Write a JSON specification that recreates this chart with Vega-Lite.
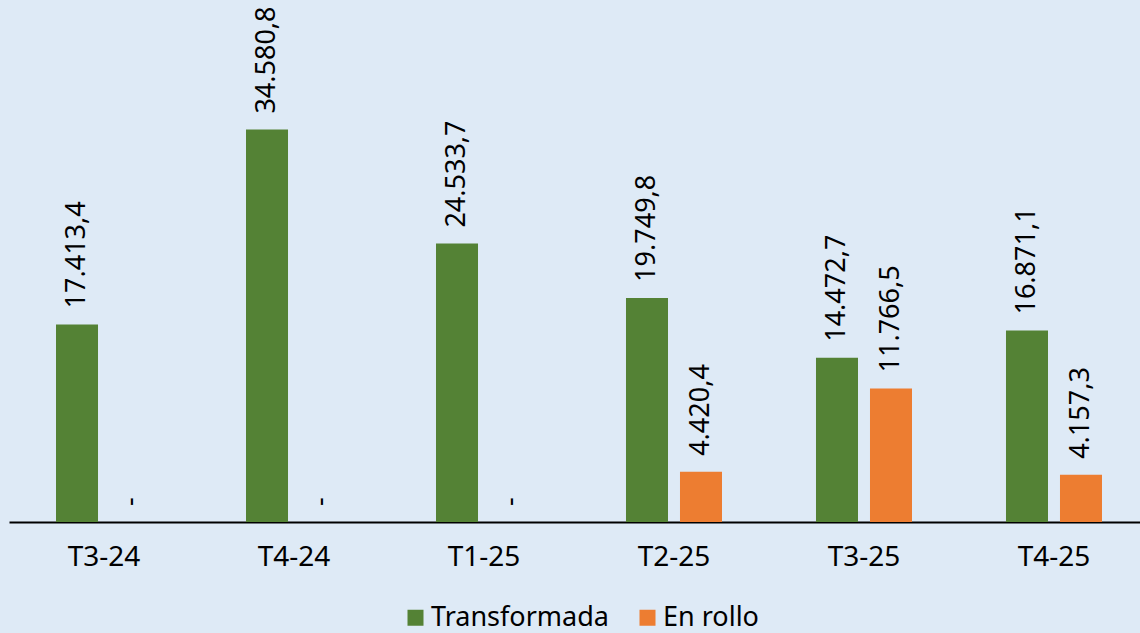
{
  "$schema": "https://vega.github.io/schema/vega-lite/v6.json",
  "width": 1140,
  "height": 522,
  "padding": {"left": 9, "top": 0, "right": 0, "bottom": 6},
  "autosize": {"type": "pad"},
  "background": "#DEEAF6",
  "config": {"view": {"stroke": null}, "font": "Noto Sans"},
  "data": {
    "values": [
      {"periodo": "T3-24", "serie": "Transformada", "valor": 17413.4, "etiqueta": "17.413,4"},
      {"periodo": "T3-24", "serie": "En rollo", "valor": 0, "etiqueta": "-"},
      {"periodo": "T4-24", "serie": "Transformada", "valor": 34580.8, "etiqueta": "34.580,8"},
      {"periodo": "T4-24", "serie": "En rollo", "valor": 0, "etiqueta": "-"},
      {"periodo": "T1-25", "serie": "Transformada", "valor": 24533.7, "etiqueta": "24.533,7"},
      {"periodo": "T1-25", "serie": "En rollo", "valor": 0, "etiqueta": "-"},
      {"periodo": "T2-25", "serie": "Transformada", "valor": 19749.8, "etiqueta": "19.749,8"},
      {"periodo": "T2-25", "serie": "En rollo", "valor": 4420.4, "etiqueta": "4.420,4"},
      {"periodo": "T3-25", "serie": "Transformada", "valor": 14472.7, "etiqueta": "14.472,7"},
      {"periodo": "T3-25", "serie": "En rollo", "valor": 11766.5, "etiqueta": "11.766,5"},
      {"periodo": "T4-25", "serie": "Transformada", "valor": 16871.1, "etiqueta": "16.871,1"},
      {"periodo": "T4-25", "serie": "En rollo", "valor": 4157.3, "etiqueta": "4.157,3"}
    ]
  },
  "encoding": {
    "x": {
      "field": "periodo",
      "type": "nominal",
      "sort": ["T3-24", "T4-24", "T1-25", "T2-25", "T3-25", "T4-25"],
      "scale": {"paddingInner": 0.4947, "paddingOuter": 0.2474},
      "axis": {
        "title": null,
        "labelAngle": 0,
        "ticks": false,
        "domainColor": "#000000",
        "domainWidth": 2,
        "labelFontSize": 28,
        "labelColor": "#000000",
        "labelPadding": 21,
        "grid": false
      }
    },
    "xOffset": {
      "field": "serie",
      "type": "nominal",
      "sort": ["Transformada", "En rollo"],
      "scale": {"paddingInner": 0.222, "paddingOuter": 0}
    },
    "y": {
      "field": "valor",
      "type": "quantitative",
      "scale": {"domain": [0, 46000]},
      "axis": null
    }
  },
  "layer": [
    {
      "mark": {"type": "bar"},
      "encoding": {
        "color": {
          "field": "serie",
          "type": "nominal",
          "sort": ["Transformada", "En rollo"],
          "scale": {"domain": ["Transformada", "En rollo"], "range": ["#548235", "#ED7D31"]},
          "legend": {
            "title": null,
            "orient": "none",
            "direction": "horizontal",
            "legendX": 393,
            "legendY": 604,
            "symbolType": "square",
            "symbolSize": 256,
            "symbolStrokeWidth": 0,
            "symbolOpacity": 1,
            "labelFontSize": 27,
            "labelColor": "#000000",
            "labelOffset": 2,
            "columnPadding": 25,
            "labelLimit": 0
          }
        }
      }
    },
    {
      "mark": {
        "type": "text",
        "angle": 270,
        "align": "left",
        "baseline": "middle",
        "dx": 16,
        "fontSize": 27,
        "color": "#000000"
      },
      "encoding": {"text": {"field": "etiqueta", "type": "nominal"}}
    }
  ]
}
